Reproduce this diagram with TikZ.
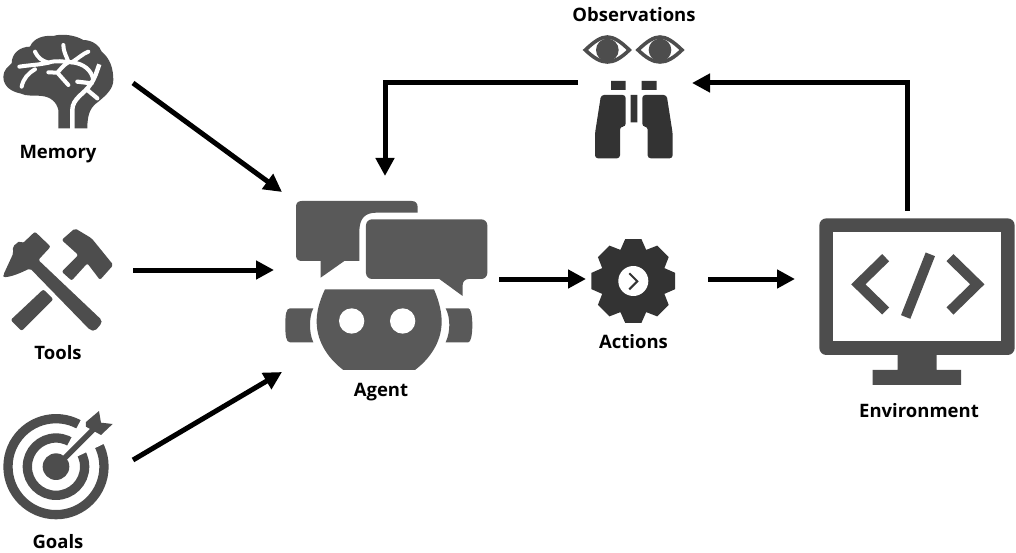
\documentclass[tikz,border=0pt]{standalone}
\usepackage{fontspec}
\setmainfont{Open Sans}
\usetikzlibrary{arrows.meta}
\definecolor{cc}{RGB}{77, 77, 77}
\definecolor{cd}{RGB}{89, 89, 89}
\definecolor{ce}{RGB}{51, 51, 51}
\tikzset{
  arrowline/.style={line width=5pt, color=black, -{Triangle[length=18pt,width=18pt]}},
  iconlabel/.style={inner sep=0pt, text=black, font=\fontsize{18.5}{22}\selectfont\bfseries},
  zoomed/.style={x=0.3333pt, y=-0.3333pt}
}

\begin{document}
\begin{tikzpicture}[x=1pt, y=-1pt]
\useasboundingbox (0,0) rectangle (1016,553);

% labels
\node (memory) [iconlabel] at (58,154.5) {Memory};
\node (tools) [iconlabel] at (58,353) {Tools};
\node (goals) [iconlabel] at (58,542) {Goals};
\node (agent) [iconlabel] at (381,392) {Agent};
\node (actions) [iconlabel] at (633.5,342) {Actions};
\node (environment) [iconlabel] at (919,411) {Environment};
\node (observations) [iconlabel] at (634,15) {Observations};

% brain
\begin{scope}[shift={(0,30)}, zoomed]
\fill [cc] (175,295) -- (175,240) .. controls (170,215) and (150,200) .. (125,198)
  .. controls (100,195) and (80,200) .. (60,190) .. controls (35,185) and (10,170) .. (10,140)
  .. controls (10,120) and (25,110) .. (35,100) .. controls (35,70) and (60,50) .. (90,50)
  .. controls (100,25) and (130,15) .. (160,18) .. controls (185,10) and (225,15) .. (250,30)
  .. controls (280,30) and (300,50) .. (305,65) .. controls (330,85) and (340,115) .. (340,150)
  .. controls (340,175) and (320,195) .. (295,215) .. controls (275,230) and (262,245) .. (262,295) -- cycle;
\draw [white, line width=4.4pt] (217,298) -- (217,240) .. controls (217,205) and (255,190) .. (270,165)
  .. controls (285,145) and (290,125) .. (298,103);
\draw [white, line width=4.2pt, line cap=round] (232,155) -- (275,160) (262,180) -- (292,205);
\draw [white, line width=4pt, line cap=round] (58,110) .. controls (90,105) and (115,105) .. (145,98)
  .. controls (170,90) and (190,95) .. (215,97) .. controls (250,100) and (275,120) .. (280,150);
\draw [white, line width=4pt, line cap=round] (105,65) .. controls (115,85) and (125,92) .. (145,98)
  (105,118) .. controls (85,130) and (70,145) .. (65,170)
  (190,45) .. controls (190,65) and (200,80) .. (205,95)
  (265,65) .. controls (250,70) and (235,85) .. (215,97)
  (205,97) .. controls (190,105) and (180,120) .. (172,128)
  (145,127) -- (172,128) -- (205,165);
\end{scope}

% hammers
\begin{scope}[shift={(0,30)}, zoomed]
\fill [cc, rounded corners=2pt] (105,605) -- (152,650) -- (115,690) -- (305,870) -- (305,880) -- (285,903) -- (270,900)
  -- (90,715) .. controls (60,730) and (35,740) .. (10,742) -- (10,735) -- (40,670) -- (38,650) -- (60,632) -- (68,640) -- cycle;
\fill [cc, rounded corners=2pt] (225,595) -- (275,625) -- (340,705) -- (300,750) -- (262,700) -- (215,752) -- (185,725)
  -- (235,675) -- (185,630) -- cycle;
\fill [cc, rounded corners=2pt] (130,778) -- (160,808) -- (65,903) -- (32,870) -- cycle;
\end{scope}

% target
\begin{scope}[shift={(0,400)}, zoomed]
\draw [cc, line width=9.3pt] (168,200) circle (144);
\draw [cc, line width=9.3pt] (168,200) circle (86);
\fill [white] (168,200) -- (256,35) -- (340,118) -- cycle;
\fill [cc] (168,200) circle (40);
\draw [cc, line width=5.5pt] (168,200) -- (285,83);
\fill [cc] (297,33) -- (303,68) -- (338,72) -- (303,105) -- (258,80) -- (258,66) -- cycle;
\end{scope}

% robot
\begin{scope}[shift={(280,190)}, zoomed]
\fill [cd] (65,33) -- (395,33) .. controls (407,33) and (413,40) .. (413,52) -- (413,68) -- (290,68) .. controls (255,68) and (238,85) .. (238,125)
  -- (238,213) -- (193,213) -- (122,263) -- (122,213) -- (65,213) .. controls (54,213) and (48,207) .. (48,196)
  -- (48,50) .. controls (48,39) and (54,33) .. (65,33) -- cycle;
\fill [cd, rounded corners=6pt] (258,88) -- (622,88) -- (622,267) -- (548,267) [sharp corners] -- (548,318) -- (478,267)
  [rounded corners=6pt] -- (258,267) -- cycle;
\fill [cd] (135,298) -- (462,298) .. controls (480,340) and (485,370) .. (485,395) .. controls (485,460) and (445,510) .. (405,540)
  -- (190,540) .. controls (150,510) and (110,460) .. (110,395) .. controls (110,370) and (115,340) .. (135,298) -- cycle;
\fill [white] (215,393) circle (38) (368,393) circle (38);
\fill [cd] (100,355) -- (30,355) .. controls (18,355) and (16,375) .. (16,405) .. controls (16,437) and (18,457) .. (30,457) -- (100,457)
  .. controls (92,440) and (90,420) .. (90,405) .. controls (90,390) and (92,370) .. (100,355) -- cycle;
\fill [cd] (497,355) -- (565,355) .. controls (572,355) and (577,375) .. (577,405) .. controls (577,437) and (572,457) .. (565,457) -- (497,457)
  .. controls (505,440) and (508,420) .. (508,405) .. controls (508,390) and (505,370) .. (497,355) -- cycle;
\end{scope}

% eyes and binoculars
\begin{scope}[shift={(560,0)}, zoomed]
\foreach \ex in {142,300}{
  \draw [cc, line width=3.6pt, fill=white] (\ex-66,150) .. controls (\ex-40,125) and (\ex-20,111) .. (\ex,111)
    .. controls (\ex+20,111) and (\ex+40,125) .. (\ex+66,150) .. controls (\ex+40,175) and (\ex+20,186) .. (\ex,186)
    .. controls (\ex-20,186) and (\ex-40,175) .. (\ex-66,150) -- cycle;
  \fill [cc] (\ex,150) circle (34);
}
\fill [ce] (153,243) rectangle (197,270) (245,243) rectangle (290,270) (212,285) rectangle (232,367);
\fill [ce, rounded corners=3pt] (123,285) -- (197,285) -- (197,380) -- (180,380) -- (180,475) -- (105,475) -- (105,400) -- cycle;
\fill [ce, rounded corners=3pt] (247,285) -- (320,285) -- (338,400) -- (338,475) -- (263,475) -- (263,380) -- (247,380) -- cycle;
\end{scope}

% gear
\begin{scope}[shift={(633.3,281)}, zoomed]
\fill [ce] (-22.5:101) \foreach \ga in {0,45,...,315}{
  -- (\ga-11:128) -- (\ga+11:128) -- (\ga+22.5:101)
} -- cycle;
\fill [white] (0,0) circle (45);
\draw [ce, line width=2pt] (-12,-23) -- (12,1) -- (-12,25);
\end{scope}

% monitor
\begin{scope}[shift={(810,205)}, zoomed]
\fill [cc, rounded corners=7pt] (28,40) rectangle (614,450);
\fill [white] (70,82) rectangle (572,408);
\fill [cc] (263,450) rectangle (380,495) (188,495) rectangle (453,540);
\draw [cc, line width=10pt] (227,158) -- (145,238) -- (227,318);
\draw [cc, line width=10pt] (420,158) -- (502,238) -- (420,318);
\draw [cc, line width=10pt] (361,148) -- (287,336);
\end{scope}

% arrow ends
\coordinate (memoryout) at (133,83);
\coordinate (toolsout) at (133,270);
\coordinate (goalsout) at (133,460);
\coordinate (agentm) at (282,192);
\coordinate (agentt) at (274,270);
\coordinate (agentg) at (282,372);
\coordinate (agentout) at (499,279);
\coordinate (actionsin) at (586,279);
\coordinate (actionsout) at (708,279);
\coordinate (envin) at (795,279);
\coordinate (envout) at (907,211);
\coordinate (obsin) at (692,83);
\coordinate (obsout) at (578,83);
\coordinate (agentin) at (385,176);

\draw [arrowline] (memoryout) to (agentm);
\draw [arrowline] (toolsout) to (agentt);
\draw [arrowline] (goalsout) to (agentg);
\draw [arrowline] (agentout) to (actionsin);
\draw [arrowline] (actionsout) to (envin);
\draw [arrowline] (envout) |- (obsin);
\draw [arrowline] (obsout) -| (agentin);
\end{tikzpicture}
\end{document}
